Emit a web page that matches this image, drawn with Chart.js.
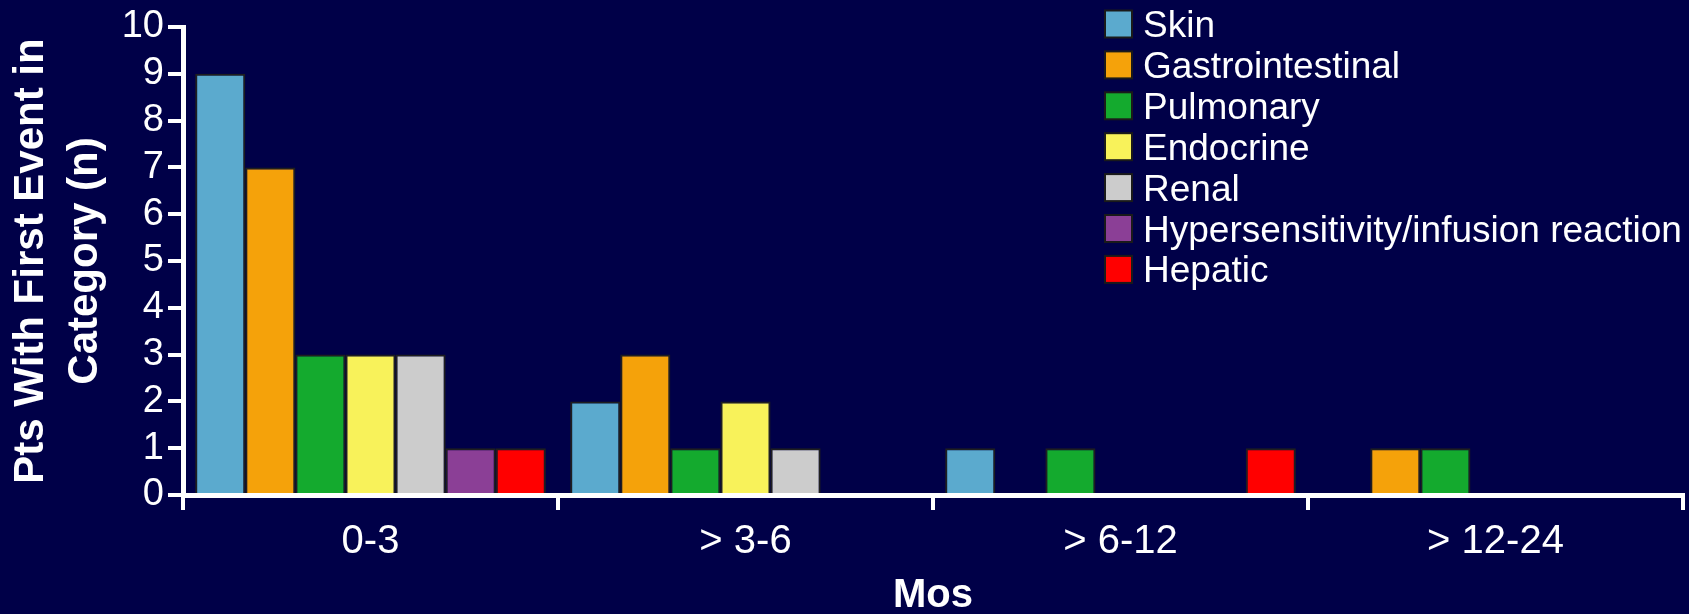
<!DOCTYPE html>
<html>
<head>
<meta charset="utf-8">
<script src="https://cdn.jsdelivr.net/npm/chart.js@4.4.1/dist/chart.umd.min.js"></script>
<style>
  html, body { margin: 0; padding: 0; background: #000048; }
  #wrap { width: 1689px; height: 614px; }
  canvas { display: block; background: #000048; }
</style>
</head>
<body>
<div id="wrap"><canvas id="chart" width="1689" height="614"></canvas></div>
<script>
// Time windows (months) and first-event counts per immune-related AE category
const categories = ['0-3', '> 3-6', '> 6-12', '> 12-24'];

const skin             = [9, 2, 1, 0];
const gastrointestinal = [7, 3, 0, 1];
const pulmonary        = [3, 1, 1, 1];
const endocrine        = [3, 2, 0, 0];
const renal            = [3, 1, 0, 0];
const hypersensitivity = [1, 0, 0, 0];
const hepatic          = [1, 0, 1, 0];

const seriesNames = ['Skin', 'Gastrointestinal', 'Pulmonary', 'Endocrine', 'Renal',
                     'Hypersensitivity/infusion reaction', 'Hepatic'];
const seriesValues = [skin, gastrointestinal, pulmonary, endocrine, renal, hypersensitivity, hepatic];
const seriesColors = ['#5BAACE', '#F5A20A', '#14AA2E', '#F8F25A', '#CCCCCC', '#8B3F96', '#FF0000'];

const yTicks = [0, 1, 2, 3, 4, 5, 6, 7, 8, 9, 10];

const FONT = "'Liberation Sans', Arial, Helvetica, sans-serif";
const WHITE = '#FFFFFF';

// Vertical legend drawn over the upper-right of the plot
const sideLegend = {
  id: 'sideLegend',
  afterDraw(chart) {
    const ctx = chart.ctx;
    const boxX = 1105, box = 27, textX = 1143, firstY = 24, step = 40.9;
    ctx.save();
    ctx.font = '37px ' + FONT;
    ctx.textBaseline = 'alphabetic';
    ctx.textAlign = 'left';
    chart.data.datasets.forEach((ds, i) => {
      const cy = firstY + i * step;
      ctx.fillStyle = '#1a1a1a';
      ctx.fillRect(boxX - 1, cy - box / 2 - 1, box + 2, box + 2);
      ctx.fillStyle = ds.backgroundColor;
      ctx.fillRect(boxX + 1, cy - box / 2 + 1, box - 2, box - 2);
      ctx.fillStyle = WHITE;
      ctx.fillText(ds.label, textX, cy + 13);
    });
    ctx.restore();
  }
};

new Chart(document.getElementById('chart'), {
  type: 'bar',
  data: {
    labels: categories,
    datasets: seriesNames.map((name, i) => ({
      label: name,
      data: seriesValues[i],
      backgroundColor: seriesColors[i],
      borderColor: '#1f1f1f',
      borderWidth: 2,
      borderSkipped: 'bottom',
      categoryPercentage: 0.935,
      barPercentage: 1.0
    }))
  },
  options: {
    responsive: false,
    animation: false,
    devicePixelRatio: 1,
    layout: { padding: { top: 27, right: 6, left: 0, bottom: 0 } },
    plugins: {
      legend: { display: false },
      tooltip: { enabled: false }
    },
    scales: {
      x: {
        offset: true,
        grid: {
          offset: true,
          drawOnChartArea: false,
          drawTicks: true,
          tickLength: 15,
          tickWidth: 4,
          tickColor: WHITE,
          lineWidth: 4,
          color: WHITE
        },
        border: { display: true, color: WHITE, width: 5 },
        ticks: {
          color: WHITE,
          font: { family: FONT, size: 40 },
          padding: 8,
          maxRotation: 0,
          autoSkip: false
        },
        title: {
          display: true,
          text: 'Mos',
          color: WHITE,
          font: { family: FONT, size: 40, weight: 'bold' },
          padding: { top: 0, bottom: -6 }
        },
        afterFit(scale) { scale.height = 119; }
      },
      y: {
        min: 0,
        max: 10,
        afterBuildTicks(scale) { scale.ticks = yTicks.map(v => ({ value: v })); },
        grid: {
          drawOnChartArea: false,
          drawTicks: true,
          tickLength: 15,
          tickWidth: 4,
          tickColor: WHITE,
          lineWidth: 4,
          color: WHITE
        },
        border: { display: true, color: WHITE, width: 5 },
        ticks: {
          color: WHITE,
          font: { family: FONT, size: 38 },
          padding: 4,
          autoSkip: false
        },
        title: {
          display: true,
          text: ['Pts With First Event in', 'Category (n)'],
          color: WHITE,
          font: { family: FONT, size: 42, weight: 'bold', lineHeight: 1.3 },
          padding: { top: 4, bottom: 0 }
        },
        afterFit(scale) { scale.width = 183; }
      }
    }
  },
  plugins: [sideLegend]
});
</script>
</body>
</html>
